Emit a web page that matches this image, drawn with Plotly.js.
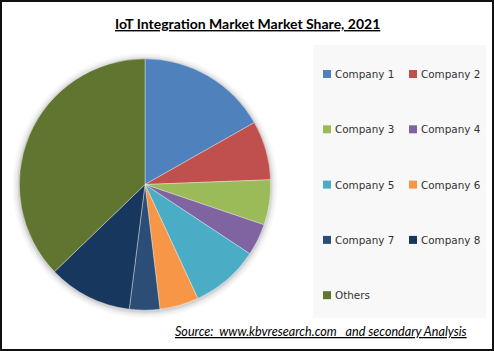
<!DOCTYPE html>
<html>
<head>
<meta charset="utf-8">
<script src="https://cdn.plot.ly/plotly-3.0.1.min.js"></script>
<style>html,body{margin:0;padding:0;background:#fff;}#chart{width:494px;height:351px;}</style>
</head>
<body>
<div id="chart"></div>
<script>
// Data
const categories = ["Company 1","Company 2","Company 3","Company 4","Company 5","Company 6","Company 7","Company 8","Others"];
const shares = [16.8, 7.6, 5.8, 4.1, 8.8, 5.0, 3.9, 10.8, 37.2];
const colors = ["#4F81BD","#C0504D","#9BBB59","#8064A2","#4BACC6","#F79646","#2C4D75","#17375E","#5F7530"];
const titleText = "IoT Integration Market Market Share, 2021";
const sourceText = "Source:  www.kbvresearch.com   and secondary Analysis";

const W = 494, H = 351;
const px = x => x / W;
const py = y => 1 - y / H;

// pie geometry (pixels)
const cx = 145, cy = 184.5, r = 125.7;

const trace = {
  type: "pie",
  labels: categories,
  values: shares,
  sort: false,
  direction: "clockwise",
  rotation: 0,
  textinfo: "none",
  hoverinfo: "label+percent",
  marker: {colors: colors, line: {color: "rgba(255,255,255,0.6)", width: 0.6}},
  domain: {x: [px(cx - r), px(cx + r)], y: [py(cy + r), py(cy - r)]},
  showlegend: false
};

const shapes = [];
const annotations = [];

// soft shadow behind pie
[[7,0.025],[5,0.035],[3,0.05],[1.5,0.07]].forEach(([d,o]) => {
  shapes.push({type:"circle", xref:"paper", yref:"paper", layer:"below",
    x0:px(cx - r - d), x1:px(cx + r + d), y0:py(cy + r + d + 1), y1:py(cy - r - d + 1),
    fillcolor:"rgba(0,0,0," + o + ")", line:{width:0}});
});

// legend background
shapes.push({type:"rect", xref:"paper", yref:"paper", layer:"below",
  x0:px(313), x1:px(486), y0:py(318), y1:py(45),
  fillcolor:"#f8f8f8", line:{width:0}});

// legend items
const colX = [323, 409];
const rowY0 = 74, rowDy = 55.3, sq = 8;
categories.forEach((c, i) => {
  const col = i % 2, row = Math.floor(i / 2);
  const x = colX[col], y = rowY0 + row * rowDy;
  shapes.push({type:"rect", xref:"paper", yref:"paper",
    x0:px(x), x1:px(x + sq), y0:py(y + sq/2), y1:py(y - sq/2),
    fillcolor:colors[i], line:{width:0}});
  annotations.push({xref:"paper", yref:"paper", x:px(x + sq + 1.5), y:py(y),
    xanchor:"left", yanchor:"middle", showarrow:false, text:c,
    font:{family:"DejaVu Sans, Verdana, sans-serif", size:10.4, color:"#333"}});
});

// border
shapes.push({type:"rect", xref:"paper", yref:"paper",
  x0:px(1), x1:px(493), y0:py(350), y1:py(1), line:{color:"#111", width:2}});

// title
annotations.push({xref:"paper", yref:"paper", x:px(248), y:py(24), xanchor:"center", yanchor:"middle",
  showarrow:false, text:"<b>" + titleText + "</b>",
  font:{family:"Lato, Carlito, sans-serif", size:14, color:"#000", lineposition:"under"}});

// source
annotations.push({xref:"paper", yref:"paper", x:px(469), y:py(331), xanchor:"right", yanchor:"middle",
  showarrow:false, text:"<i>" + sourceText + "</i>",
  font:{family:"Lato, Carlito, sans-serif", size:12.6, color:"#000", lineposition:"under"}});

const layout = {
  width: W, height: H,
  margin: {l:0, r:0, t:0, b:0, pad:0},
  paper_bgcolor: "#fff",
  plot_bgcolor: "#fff",
  showlegend: false,
  shapes: shapes,
  annotations: annotations
};

Plotly.newPlot("chart", [trace], layout, {displayModeBar:false, staticPlot:true});
</script>
</body>
</html>
